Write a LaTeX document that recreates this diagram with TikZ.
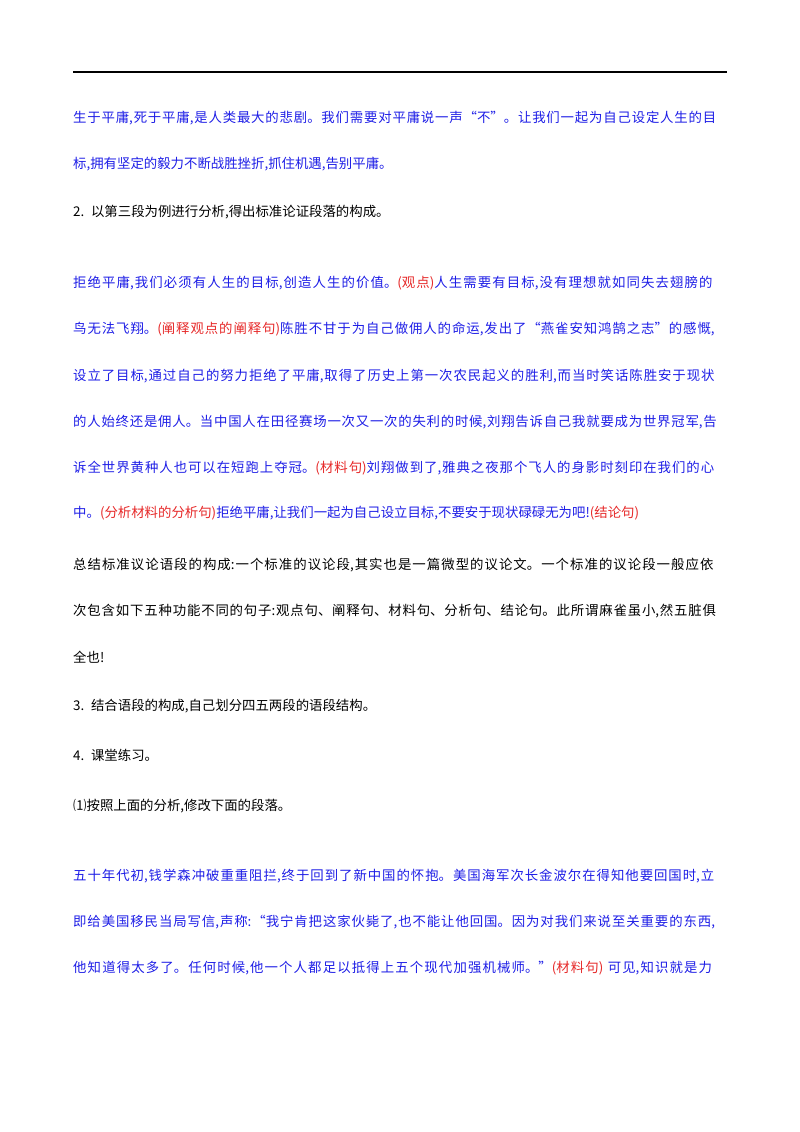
\documentclass[tikz,border=0pt]{standalone}
\usepackage{fontspec}
\setmainfont{Noto Sans CJK SC}
\XeTeXlinebreaklocale "zh"
\XeTeXlinebreakskip=0pt plus 2pt
\definecolor{tb}{RGB}{30,30,230}
\definecolor{tr}{RGB}{230,40,40}
\tikzset{ln/.style={anchor=west,inner sep=0pt,text width=654pt,font=\fontsize{13.4pt}{16pt}\selectfont,
  execute at begin node={\parfillskip=0pt\relax}},
  last/.style={execute at begin node={\parfillskip=0pt plus 1fil\relax}}}
\newcommand{\rd}[1]{\textcolor{tr}{#1}}
\begin{document}
\begin{tikzpicture}[x=1pt,y=-1pt]
\useasboundingbox (0,0) rectangle (800,1132);
\draw[line width=1.6pt] (73,72) -- (727,72);
\begin{scope}[every node/.append style={text=tb}]
\node[ln] (l1) at (73,118) {生于平庸,死于平庸,是人类最大的悲剧。我们需要对平庸说一声“不”。让我们一起为自己设定人生的目};
\node[ln,last] (l2) at (73,164) {标,拥有坚定的毅力不断战胜挫折,抓住机遇,告别平庸。};
\node[ln] (l4) at (73,283) {拒绝平庸,我们必须有人生的目标,创造人生的价值。\rd{(观点)}人生需要有目标,没有理想就如同失去翅膀的};
\node[ln] (l5) at (73,329) {鸟无法飞翔。\rd{(阐释观点的阐释句)}陈胜不甘于为自己做佣人的命运,发出了“燕雀安知鸿鹄之志”的感慨,};
\node[ln] (l6) at (73,376) {设立了目标,通过自己的努力拒绝了平庸,取得了历史上第一次农民起义的胜利,而当时笑话陈胜安于现状};
\node[ln] (l7) at (73,422) {的人始终还是佣人。当中国人在田径赛场一次又一次的失利的时候,刘翔告诉自己我就要成为世界冠军,告};
\node[ln] (l8) at (73,468) {诉全世界黄种人也可以在短跑上夺冠。\rd{(材料句)}刘翔做到了,雅典之夜那个飞人的身影时刻印在我们的心};
\node[ln,last] (l9) at (73,513) {中。\rd{(分析材料的分析句)}拒绝平庸,让我们一起为自己设立目标,不要安于现状碌碌无为吧!\rd{(结论句)}};
\node[ln] (l16) at (73,876) {五十年代初,钱学森冲破重重阻拦,终于回到了新中国的怀抱。美国海军次长金波尔在得知他要回国时,立};
\node[ln] (l17) at (73,922) {即给美国移民当局写信,声称:“我宁肯把这家伙毙了,也不能让他回国。因为对我们来说至关重要的东西,};
\node[ln] (l18) at (73,968) {他知道得太多了。任何时候,他一个人都足以抵得上五个现代加强机械师。”\rd{(材料句)} 可见,知识就是力};
\end{scope}
\node[ln,last] (l3) at (73,212) {2. 以第三段为例进行分析,得出标准论证段落的构成。};
\node[ln] (l10) at (73,565) {总结标准议论语段的构成:一个标准的议论段,其实也是一篇微型的议论文。一个标准的议论段一般应依};
\node[ln] (l11) at (73,611) {次包含如下五种功能不同的句子:观点句、阐释句、材料句、分析句、结论句。此所谓麻雀虽小,然五脏俱};
\node[ln,last] (l12) at (73,657) {全也!};
\node[ln,last] (l13) at (73,706) {3. 结合语段的构成,自己划分四五两段的语段结构。};
\node[ln,last] (l14) at (73,755) {4. 课堂练习。};
\node[ln,last] (l15) at (73,806) {⑴按照上面的分析,修改下面的段落。};
\end{tikzpicture}
\end{document}
